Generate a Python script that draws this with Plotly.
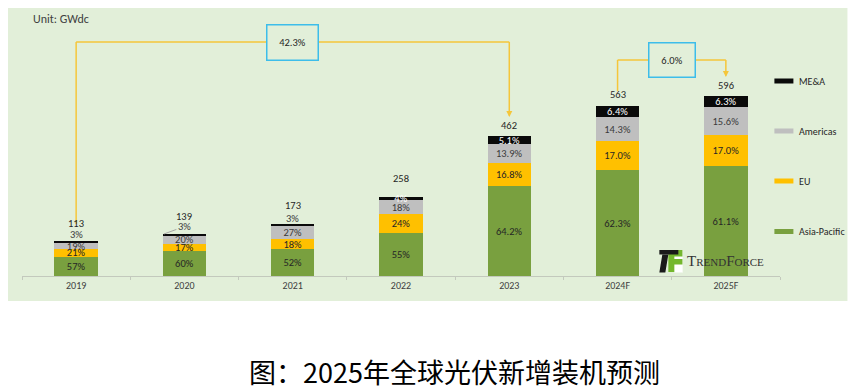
import plotly.graph_objects as go

# ---------------- data ----------------
categories = ['2019', '2020', '2021', '2022', '2023', '2024F', '2025F']
totals = [113, 139, 173, 258, 462, 563, 596]
asia_pacific_pct = [57, 60, 52, 55, 64.2, 62.3, 61.1]
eu_pct = [21, 17, 18, 24, 16.8, 17.0, 17.0]
americas_pct = [19, 20, 27, 18, 13.9, 14.3, 15.6]
mea_pct = [3, 3, 3, 4, 5.1, 6.4, 6.3]
pct_decimals = [0, 0, 0, 0, 1, 1, 1]
growth_2019_2023 = '42.3%'
growth_2024_2025 = '6.0%'
series_names = ['Asia-Pacific', 'EU', 'Americas', 'ME&A']
unit_text = 'Unit: GWdc'
title_text = '图：2025年全球光伏新增装机预测'

# ---------------- style ----------------
colors = ['#79a03f', '#ffc000', '#bfbfbf', '#0a0a0a']
text_colors = ['#262626', '#262626', '#3a3a3a', '#ffffff']
BG = '#e2efd9'
ARROW = '#f5c63a'
BOXC = '#3dbdea'
FONT = 'Carlito, Lato, sans-serif'
mea_inside = [False, False, False, True, True, True, True]
total_offsets = [18, 18, 18, 19, 11, 11, 11]

# page has an 8px body margin: figure is placed at (8, 8) in the window
O = 8
W, H = 856 - O, 391 - O
L, T = 22 - O, 20 - O
PLOT_RIGHT, PLOT_BOTTOM = 779.6 - O, 276 - O
R, B = W - PLOT_RIGHT, H - PLOT_BOTTOM
PW, PH = PLOT_RIGHT - L, PLOT_BOTTOM - T
YMAX = PH / 0.302
N = len(categories)


def px(x):
    # window x -> paper x
    return (x - O - L) / PW


def py(y):
    # window y -> paper y
    return (PLOT_BOTTOM - (y - O)) / PH


def yd(y):
    # window y -> data y
    return py(y) * YMAX


def xc(idx):
    # category index -> paper x (category axis spans -0.5 .. N-0.5)
    return (idx + 0.5) / N


def fmt(v, d):
    return f'{v:.{d}f}%'


fig = go.Figure()
pcts = [asia_pacific_pct, eu_pct, americas_pct, mea_pct]
for k, (name, p) in enumerate(zip(series_names, pcts)):
    vals = [t * v / 100 for t, v in zip(totals, p)]
    txt = [fmt(v, d) for v, d in zip(p, pct_decimals)]
    if name == 'ME&A':
        txt = [s if ins else '' for s, ins in zip(txt, mea_inside)]
    fig.add_trace(go.Bar(
        x=categories, y=vals, name=name, marker=dict(color=colors[k], line=dict(width=0)),
        text=txt, textposition='inside', insidetextanchor='middle', textangle=0,
        textfont=dict(family=FONT, size=10.5, color=text_colors[k]),
        hoverinfo='skip', showlegend=False, cliponaxis=False))

annotations = []
# totals
for i, c in enumerate(categories):
    stack_top = totals[i] * (sum(p[i] for p in pcts) / 100)
    annotations.append(dict(x=xc(i), y=stack_top, xref='paper', yref='y',
                            text=str(totals[i]), showarrow=False, xanchor='center', yanchor='middle',
                            yshift=total_offsets[i],
                            font=dict(family=FONT, size=10.5, color='#262626')))
# ME&A labels outside bars
for i, c in enumerate(categories):
    if mea_inside[i]:
        continue
    top = totals[i]
    lab = fmt(mea_pct[i], pct_decimals[i])
    if c == '2020':
        annotations.append(dict(x=xc(i - 0.19), y=top, xref='paper', yref='y', text=lab,
                                showarrow=True, arrowhead=0, arrowwidth=1, arrowcolor='#a6a6a6',
                                ax=20.5, ay=-7.5, standoff=0, xanchor='center',
                                font=dict(family=FONT, size=10.5, color='#3a3a3a')))
    else:
        annotations.append(dict(x=xc(i), y=top, xref='paper', yref='y', text=lab, showarrow=False,
                                xanchor='center', yanchor='middle', yshift=7 if i == 0 else 5,
                                font=dict(family=FONT, size=10.5, color='#3a3a3a')))

shapes = [dict(type='rect', xref='paper', yref='paper', x0=px(8), x1=px(847), y0=py(301), y1=py(8),
               fillcolor=BG, line=dict(width=0), layer='below')]

# growth brackets
i19, i23, i24, i25 = [categories.index(c) for c in ['2019', '2023', '2024F', '2025F']]
LW = 1.5
yA = yd(42)
shapes.append(dict(type='line', xref='paper', yref='y', x0=xc(i19), x1=xc(i19), y0=yd(224), y1=yA,
                   line=dict(color=ARROW, width=LW)))
shapes.append(dict(type='line', xref='paper', yref='y', x0=xc(i19), x1=xc(i23), y0=yA, y1=yA,
                   line=dict(color=ARROW, width=LW)))
shapes.append(dict(type='line', xref='paper', yref='y', x0=xc(i23), x1=xc(i23), y0=yd(112), y1=yA,
                   line=dict(color=ARROW, width=LW)))
annotations.append(dict(x=xc(i23), y=yd(117), xref='paper', yref='y', ax=0, ay=-7,
                        text='', showarrow=True, arrowhead=2, arrowsize=0.8, arrowwidth=LW,
                        arrowcolor=ARROW, standoff=0, xanchor='center'))
annotations.append(dict(x=xc((i19 + i23) / 2), y=yA, xref='paper', yref='y', text=growth_2019_2023,
                        showarrow=False, width=50, height=34, borderpad=0, borderwidth=1.5,
                        bordercolor=BOXC, bgcolor=BG, xanchor='center', yanchor='middle',
                        font=dict(family=FONT, size=10.5, color='#262626')))
yB = yd(60)
shapes.append(dict(type='line', xref='paper', yref='y', x0=xc(i24), x1=xc(i24), y0=yd(91), y1=yB,
                   line=dict(color=ARROW, width=LW)))
shapes.append(dict(type='line', xref='paper', yref='y', x0=xc(i24), x1=xc(i25), y0=yB, y1=yB,
                   line=dict(color=ARROW, width=LW)))
shapes.append(dict(type='line', xref='paper', yref='y', x0=xc(i25), x1=xc(i25), y0=yd(72), y1=yB,
                   line=dict(color=ARROW, width=LW)))
annotations.append(dict(x=xc(i25), y=yd(77), xref='paper', yref='y', ax=0, ay=-7,
                        text='', showarrow=True, arrowhead=2, arrowsize=0.8, arrowwidth=LW,
                        arrowcolor=ARROW, standoff=0, xanchor='center'))
annotations.append(dict(x=xc((i24 + i25) / 2), y=yB, xref='paper', yref='y', text=growth_2024_2025,
                        showarrow=False, width=45, height=33, borderpad=0, borderwidth=1.5,
                        bordercolor=BOXC, bgcolor=BG, xanchor='center', yanchor='middle',
                        font=dict(family=FONT, size=10.5, color='#262626')))

# legend (manual, right side)
legend_y = [231.5, 181, 131, 81]
for k, name in enumerate(series_names):
    yc = legend_y[k]
    shapes.append(dict(type='rect', xref='paper', yref='paper', x0=px(774), x1=px(793),
                       y0=py(yc + 2.5), y1=py(yc - 2.5), fillcolor=colors[k], line=dict(width=0)))
    annotations.append(dict(x=px(796.5), y=py(yc), xref='paper', yref='paper', text=name,
                            showarrow=False, xanchor='left', yanchor='middle',
                            font=dict(family=FONT, size=10, color='#262626')))

# unit
annotations.append(dict(x=px(31), y=py(19), xref='paper', yref='paper', text=unit_text,
                        showarrow=False, xanchor='left', yanchor='middle',
                        font=dict(family=FONT, size=12, color='#404040')))

# TrendForce logo
shapes += [
    dict(type='rect', xref='paper', yref='paper', x0=px(668), x1=px(682), y0=py(272), y1=py(250),
         fillcolor='#74b72e', line=dict(width=0), layer='above'),
    dict(type='rect', xref='paper', yref='paper', x0=px(674), x1=px(682.5), y0=py(259), y1=py(256.5),
         fillcolor='#ffffff', line=dict(width=0), layer='above'),
    dict(type='rect', xref='paper', yref='paper', x0=px(674), x1=px(682.5), y0=py(272.5), y1=py(264.5),
         fillcolor='#ffffff', line=dict(width=0), layer='above'),
    dict(type='rect', xref='paper', yref='paper', x0=px(659), x1=px(678), y0=py(254.5), y1=py(250),
         fillcolor='#1a1a1a', line=dict(width=0), layer='above'),
    dict(type='path', xref='paper', yref='paper',
         path=f'M {px(662)} {py(254.5)} L {px(668)} {py(254.5)} L {px(665)} {py(272.5)} L {px(659)} {py(272.5)} Z',
         fillcolor='#1a1a1a', line=dict(width=0), layer='above'),
]
annotations.append(dict(x=px(725), y=py(261), xref='paper', yref='paper',
                        text='T<span style="font-size:11px">REND</span>F<span style="font-size:11px">ORCE</span>',
                        showarrow=False, xanchor='center', yanchor='middle',
                        font=dict(family='Liberation Serif, serif', size=15, color='#333333')))

# title
annotations.append(dict(x=px(454), y=py(371.5), xref='paper', yref='paper', text=title_text,
                        showarrow=False, xanchor='center', yanchor='middle',
                        font=dict(family='Noto Sans CJK SC', size=27, color='#000000')))

fig.update_layout(
    width=W, height=H, margin=dict(l=L, r=R, t=T, b=B, autoexpand=False),
    barmode='stack', bargap=0.6,
    paper_bgcolor='#ffffff', plot_bgcolor='rgba(0,0,0,0)',
    uniformtext=dict(minsize=10.5, mode='show'),
    showlegend=False,
    font=dict(family=FONT, color='#404040'),
    xaxis=dict(type='category', categoryorder='array', categoryarray=categories,
               range=[-0.5, N - 0.5], autorange=False,
               showline=True, linecolor='#c3c9bd', linewidth=1.2,
               ticks='outside', tickson='boundaries', ticklen=3, tickcolor='#c3c9bd',
               showgrid=False, tickfont=dict(family=FONT, size=10, color='#404040'),
               fixedrange=True),
    yaxis=dict(visible=False, range=[0, YMAX], autorange=False, showgrid=False, zeroline=False,
               fixedrange=True),
    shapes=shapes, annotations=annotations,
)

fig.write_html('out.html')
